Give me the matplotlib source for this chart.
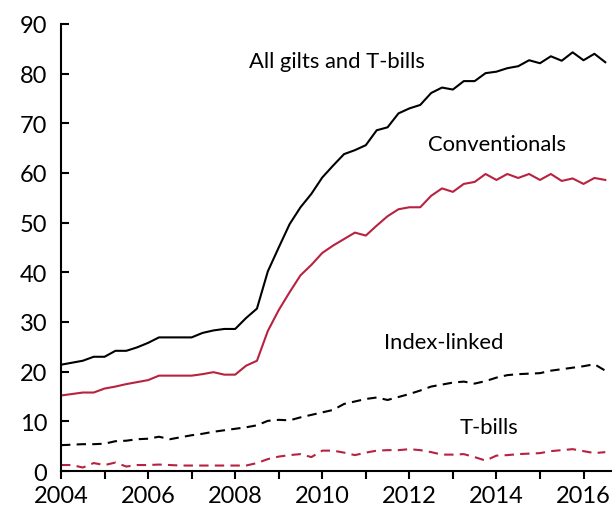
import numpy as np
import matplotlib.pyplot as plt
from matplotlib.ticker import MultipleLocator

plt.rcParams['font.family'] = ['Lato', 'DejaVu Sans']

# quarterly, 2004Q1 .. 2016Q3
years = 2004 + 0.25 * np.arange(51)

all_gilts = [21.4, 21.8, 22.2, 23.0, 23.0, 24.2, 24.2, 24.9, 25.8, 26.9,
             26.9, 26.9, 26.9, 27.8, 28.3, 28.6, 28.6, 30.8, 32.7, 40.2,
             45.0, 49.7, 53.1, 55.8, 59.1, 61.5, 63.8, 64.6, 65.6, 68.6,
             69.2, 72.0, 73.0, 73.7, 76.1, 77.2, 76.8, 78.5, 78.5, 80.1,
             80.4, 81.1, 81.5, 82.7, 82.1, 83.5, 82.6, 84.3, 82.7, 84.0, 82.3]

conventionals = [15.2, 15.5, 15.8, 15.8, 16.6, 17.0, 17.5, 17.9, 18.3, 19.2,
                 19.2, 19.2, 19.2, 19.5, 19.9, 19.4, 19.4, 21.2, 22.2, 28.2,
                 32.4, 36.0, 39.4, 41.5, 43.9, 45.4, 46.7, 48.0, 47.4, 49.4,
                 51.3, 52.7, 53.1, 53.1, 55.4, 56.9, 56.2, 57.8, 58.2, 59.8,
                 58.6, 59.8, 59.0, 59.8, 58.6, 59.8, 58.4, 58.9, 57.8, 59.0, 58.6]

index_linked = [5.2, 5.3, 5.4, 5.4, 5.5, 6.0, 6.1, 6.4, 6.5, 6.9,
                6.4, 6.8, 7.2, 7.5, 7.9, 8.2, 8.5, 8.8, 9.2, 10.1,
                10.3, 10.2, 10.8, 11.3, 11.8, 12.3, 13.5, 14.0, 14.5, 14.8,
                14.3, 14.9, 15.5, 16.2, 17.0, 17.4, 17.8, 18.0, 17.6, 18.1,
                18.8, 19.3, 19.5, 19.6, 19.7, 20.2, 20.5, 20.8, 21.1, 21.5, 20.2]

t_bills = [1.2, 1.2, 0.7, 1.6, 1.2, 1.7, 0.9, 1.2, 1.2, 1.3,
           1.2, 1.1, 1.1, 1.1, 1.1, 1.1, 1.1, 1.1, 1.6, 2.4,
           2.9, 3.2, 3.4, 2.8, 4.1, 4.1, 3.7, 3.2, 3.7, 4.1,
           4.2, 4.2, 4.4, 4.2, 3.8, 3.3, 3.3, 3.4, 2.8, 2.1,
           3.1, 3.2, 3.4, 3.5, 3.6, 4.0, 4.2, 4.4, 4.0, 3.6, 3.8]

red = '#B8213F'

fig = plt.figure(figsize=(6.12, 5.10), dpi=100)
ax = fig.add_axes([0.0997, 0.0745, 0.9, 0.8765])

ax.plot(years, all_gilts, color='black', lw=1.5)
ax.plot(years, conventionals, color=red, lw=1.5)
ax.plot(years, index_linked, color='black', lw=1.5, dashes=(4.5, 3))
ax.plot(years, t_bills, color=red, lw=1.5, dashes=(4.5, 3))

ax.text(2008.32, 82.5, 'All gilts and T-bills', fontsize=15.8, va='center')
ax.text(2012.43, 65.8, 'Conventionals', fontsize=15.8, va='center')
ax.text(2011.41, 26.0, 'Index-linked', fontsize=15.8, va='center')
ax.text(2013.16, 8.8, 'T-bills', fontsize=15.8, va='center')

ax.set_xlim(2004, 2016.65)
ax.set_ylim(0, 90)
ax.xaxis.set_major_locator(MultipleLocator(2))
ax.xaxis.set_minor_locator(MultipleLocator(1))
ax.yaxis.set_major_locator(MultipleLocator(10))

for s in ['top', 'right']:
    ax.spines[s].set_visible(False)
for s in ['left', 'bottom']:
    ax.spines[s].set_linewidth(1.5)

ax.tick_params(axis='y', direction='in', length=6, width=1.5, labelsize=17, pad=10)
ax.tick_params(axis='x', which='both', direction='out', length=6, width=1.5, labelsize=17, pad=4)

fig.savefig('out.png', dpi=100)
